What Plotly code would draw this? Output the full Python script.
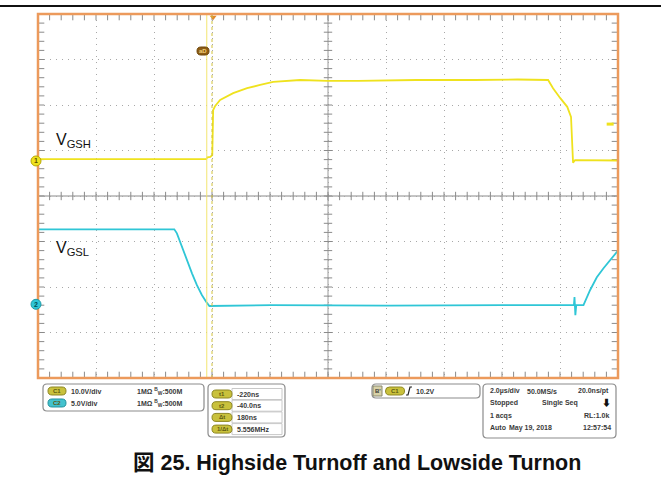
import numpy as np
import plotly.graph_objects as go

# ---------------- data ----------------
# time in microseconds relative to trigger, voltage in volts
ch1_t = [-6.04, -0.24, -0.20, -0.10, -0.03, 0.00, 0.07, 0.24, 0.69, 1.17, 1.62, 2.07,
         3.00, 3.93, 5.00, 7.00, 9.00, 10.50, 11.55, 11.72, 11.97, 12.21, 12.34,
         12.38, 12.41, 12.48, 13.96]
ch1_v = [0.4, 0.4, 0.8, 0.9, 1.3, 11.2, 12.1, 13.4, 14.9, 16.0, 16.7, 17.4,
         17.8, 17.6, 17.6, 17.8, 17.8, 17.9, 17.8, 16.0, 13.8, 11.9, 9.7,
         4.0, -0.4, 0.2, 0.1]
ch2_t = [-6.04, -1.34, -1.25, -1.08, -0.91, -0.73, -0.56, -0.39, -0.22, -0.13,
         2.0, 6.0, 10.0, 12.44, 12.46, 12.49, 12.52, 12.77, 13.00, 13.23, 13.46,
         13.69, 13.92, 13.96]
ch2_v = [8.24, 8.24, 7.8, 6.3, 4.87, 3.4, 2.1, 1.02, 0.18, -0.19,
         -0.1, -0.15, -0.1, -0.1, 0.8, -1.2, -0.1, -0.1, 1.57, 2.97, 3.96,
         4.87, 5.78, 5.9]

ch1_scale, ch1_offset = 10.0, 0.77     # V/div, ground position (div)
ch2_scale, ch2_offset = 5.0, -2.38
cursor_times = [-0.22, -0.04]          # us
trig_marker_div = 1.58

ch1_labels = ["10.0V/div", "5.0V/div"]
bw_label = "1MΩ <sup>B</sup><sub>W</sub>:500M"
cursor_labels = ["-220ns", "-40.0ns", "180ns", "5.556MHz"]
cursor_pills = ["t1", "t2", "Δt", "1/Δt"]
trigger_label = "10.2V"
acq_rows = [["2.0µs/div", "50.0MS/s", "20.0ns/pt"],
            ["Stopped", "Single Seq", "⬇"],
            ["1 acqs", "", "RL:1.0k"],
            ["Auto", "May 19, 2018", "12:57:54"]]
title = "図 25. Highside Turnoff and Lowside Turnon"

# ---------------- geometry ----------------
W, H = 661, 493
L, T, R, B = 38, 14, 618, 378
X0, X1 = -6.04, 13.96
YELLOW = "#EFE21E"
CYAN = "#2FC6D6"
ORANGE = "#EC9A5C"
FONT = "Liberation Sans, Arial, Noto Sans CJK JP, sans-serif"


def P(px, py):
    return (px - L) / (R - L), (B - py) / (B - T)


def rpath(x0, y0, x1, y1, r):
    def pt(x, y):
        a, b = P(x, y)
        return f"{a:.5f},{b:.5f}"
    return (f"M {pt(x0 + r, y0)} L {pt(x1 - r, y0)} Q {pt(x1, y0)} {pt(x1, y0 + r)} "
            f"L {pt(x1, y1 - r)} Q {pt(x1, y1)} {pt(x1 - r, y1)} "
            f"L {pt(x0 + r, y1)} Q {pt(x0, y1)} {pt(x0, y1 - r)} "
            f"L {pt(x0, y0 + r)} Q {pt(x0, y0)} {pt(x0 + r, y0)} Z")


fig = go.Figure()

# graticule tick marks: center cross and frame edges
xt = np.arange(X0, X1 + 0.001, 0.4)
yt = np.arange(-4, 4.001, 0.2)
tick_style = dict(width=1, color="#8A8A8A")
for yy in (0.0, 4.0, -4.0):
    fig.add_trace(go.Scatter(x=xt, y=np.full_like(xt, yy), mode="markers",
                             marker=dict(symbol="line-ns", size=6 if yy == 0 else 9, line=tick_style),
                             hoverinfo="skip", showlegend=False))
for xx in (X0 + 10, X0, X1):
    fig.add_trace(go.Scatter(x=np.full_like(yt, xx), y=yt, mode="markers",
                             marker=dict(symbol="line-ew", size=6 if xx == X0 + 10 else 9, line=tick_style),
                             hoverinfo="skip", showlegend=False))

# traces
fig.add_trace(go.Scatter(x=ch1_t, y=[v / ch1_scale + ch1_offset for v in ch1_v], mode="lines",
                         line=dict(color=YELLOW, width=1.8), showlegend=False))
fig.add_trace(go.Scatter(x=ch2_t, y=[v / ch2_scale + ch2_offset for v in ch2_v], mode="lines",
                         line=dict(color=CYAN, width=1.8), showlegend=False))

# trigger position & level markers
fig.add_trace(go.Scatter(x=[0], y=[3.93], mode="markers",
                         marker=dict(symbol="triangle-down", size=6, color="#E0892E"),
                         cliponaxis=False, showlegend=False))
fig.add_trace(go.Scatter(x=[13.69], y=[trig_marker_div], mode="markers",
                         marker=dict(symbol="line-ew", size=5, line=dict(width=3, color=YELLOW)),
                         cliponaxis=False, showlegend=False))

shapes = []
# cursors
shapes.append(dict(type="line", xref="x", yref="paper", x0=cursor_times[0], x1=cursor_times[0],
                   y0=0, y1=1, line=dict(color="#F3E670", width=1)))
shapes.append(dict(type="line", xref="x", yref="paper", x0=cursor_times[1], x1=cursor_times[1],
                   y0=0, y1=1, line=dict(color="#D2C23A", width=1, dash="dot")))
# center cross
shapes.append(dict(type="line", xref="x", yref="paper", x0=X0 + 10, x1=X0 + 10, y0=0, y1=1,
                   line=dict(color="#9A9A9A", width=1), layer="below"))
shapes.append(dict(type="line", xref="paper", yref="y", x0=0, x1=1, y0=0, y1=0,
                   line=dict(color="#8A8A8A", width=1), layer="below"))
# top rule line
a0, b0 = P(0, 6)
a1, _ = P(W, 6)
shapes.append(dict(type="line", xref="paper", yref="paper", x0=a0, x1=a1, y0=b0, y1=b0,
                   line=dict(color="#111111", width=2)))
# frame
fx0, fy0 = P(L, T)
fx1, fy1 = P(R, B)
shapes.append(dict(type="rect", xref="paper", yref="paper", x0=fx0, x1=fx1, y0=fy1, y1=fy0,
                   line=dict(color=ORANGE, width=2.5)))
# bus marker
shapes.append(dict(type="path", xref="paper", yref="paper", path=rpath(197, 47, 209, 55, 4),
                   fillcolor="#8E5C12", line=dict(color="#6E4608", width=1)))

# channel ground markers (on top of frame)
for off, fill, edge in [(ch1_offset, YELLOW, "#B8A800"), (ch2_offset, CYAN, "#1E9AA8")]:
    cy = 196 - off * 45.5
    shapes.append(dict(type="circle", xref="paper", yref="paper",
                       x0=P(31, 0)[0], x1=P(41, 0)[0], y0=P(0, cy + 5)[1], y1=P(0, cy - 5)[1],
                       fillcolor=fill, line=dict(color=edge, width=1)))

# panels
panel_line = dict(color="#8C8C8C", width=1.2)
for box in [(43, 384, 204, 411), (208, 384, 285, 437), (372, 384, 480, 398), (483, 384, 616, 438)]:
    shapes.append(dict(type="path", xref="paper", yref="paper", path=rpath(*box, 4),
                       fillcolor="white", line=panel_line))

ann = []


def text(px, py, s, size=7, color="#3A3A3A", xanchor="left", bold=True):
    x, y = P(px, py)
    ann.append(dict(x=x, y=y, xref="paper", yref="paper", text=(f"<b>{s}</b>" if bold else s),
                    showarrow=False, xanchor=xanchor, yanchor="middle",
                    font=dict(size=size, color=color, family=FONT)))


def pill(cx, cy, w, h, fill, edge, label):
    shapes.append(dict(type="path", xref="paper", yref="paper",
                       path=rpath(cx - w / 2, cy - h / 2, cx + w / 2, cy + h / 2, h / 2),
                       fillcolor=fill, line=dict(color=edge, width=1)))
    text(cx, cy, label, size=6, color="#5E5A10", xanchor="center")


# channel marker numbers
text(36, 196 - ch1_offset * 45.5, "1", size=7, color="#5A5000", xanchor="center")
text(36, 196 - ch2_offset * 45.5, "2", size=7, color="#004E58", xanchor="center")

# panel 1
pill(57, 391, 18, 8, "#C9C13C", "#8E8722", "C1")
pill(57, 403, 18, 8, "#43C2CE", "#23939E", "C2")
for i, lab in enumerate(ch1_labels):
    text(69, 391 + 12 * i, lab)
    text(135, 391 + 12 * i, bw_label)
# panel 2
for i, lab in enumerate(cursor_labels):
    cy = 394 + 11.7 * i
    shapes.append(dict(type="rect", xref="paper", yref="paper",
                       x0=P(232, 0)[0], x1=P(282, 0)[0], y0=P(0, cy - 5.5)[1], y1=P(0, cy + 5.5)[1],
                       fillcolor="white", line=dict(color="#C8C8C8", width=1)))
    pill(222, cy, 20, 8, "#C9C13C", "#8E8722", cursor_pills[i])
    text(235, cy, lab)
# panel 3
shapes.append(dict(type="rect", xref="paper", yref="paper",
                   x0=P(373, 0)[0], x1=P(382, 0)[0], y0=P(0, 386)[1], y1=P(0, 396)[1],
                   fillcolor="#D8D2A8", line=dict(color="#8A8A70", width=1)))
text(377.5, 391, "B'", size=6, xanchor="center")
pill(395, 391, 19, 8, "#C9C13C", "#8E8722", "C1")
shapes.append(dict(type="path", xref="paper", yref="paper",
                   path=f"M {P(406,395)[0]:.5f},{P(406,395)[1]:.5f} L {P(408,395)[0]:.5f},{P(408,395)[1]:.5f} "
                        f"L {P(410,387)[0]:.5f},{P(410,387)[1]:.5f} L {P(412,387)[0]:.5f},{P(412,387)[1]:.5f}",
                   line=dict(color="#222222", width=1.2)))
text(414, 391, trigger_label)
# panel 4
for r, row in enumerate(acq_rows):
    cy = 391 + 12.3 * r
    text(488, cy, row[0])
    if r == 0:
        text(525, cy, row[1])
    elif r == 1:
        text(540, cy, row[1])
    elif r == 3:
        text(507, cy, row[1])
    if r == 1:
        text(606, cy, row[2], size=9, color="#111111", xanchor="center")
    else:
        text(611 if r != 3 else 613, cy, row[2], xanchor="right")

# signal names
text(54, 140, "V<sub>GSH</sub>", size=16, color="#111111", bold=False)
text(54, 249, "V<sub>GSL</sub>", size=16, color="#111111", bold=False)
# bus marker text
text(203, 51, "aD", size=6, color="#F2D27A", xanchor="center")
# caption
text(357, 463, title, size=21.5, color="#111111", xanchor="center")

fig.update_layout(
    width=W, height=H,
    margin=dict(l=L, r=W - R, t=T, b=H - B, pad=0),
    paper_bgcolor="white", plot_bgcolor="white",
    shapes=shapes, annotations=ann, showlegend=False,
    xaxis=dict(range=[X0, X1], tick0=X0, dtick=2, showticklabels=False,
               showgrid=True, gridcolor="#A8A8A8", gridwidth=1, griddash="1px,5px",
               ticks="", showline=False, zeroline=False),
    yaxis=dict(range=[-4, 4], tick0=-4, dtick=1, showticklabels=False,
               showgrid=True, gridcolor="#A8A8A8", gridwidth=1, griddash="1px,5px",
               ticks="", showline=False, zeroline=False),
)

fig.write_html("out.html")
